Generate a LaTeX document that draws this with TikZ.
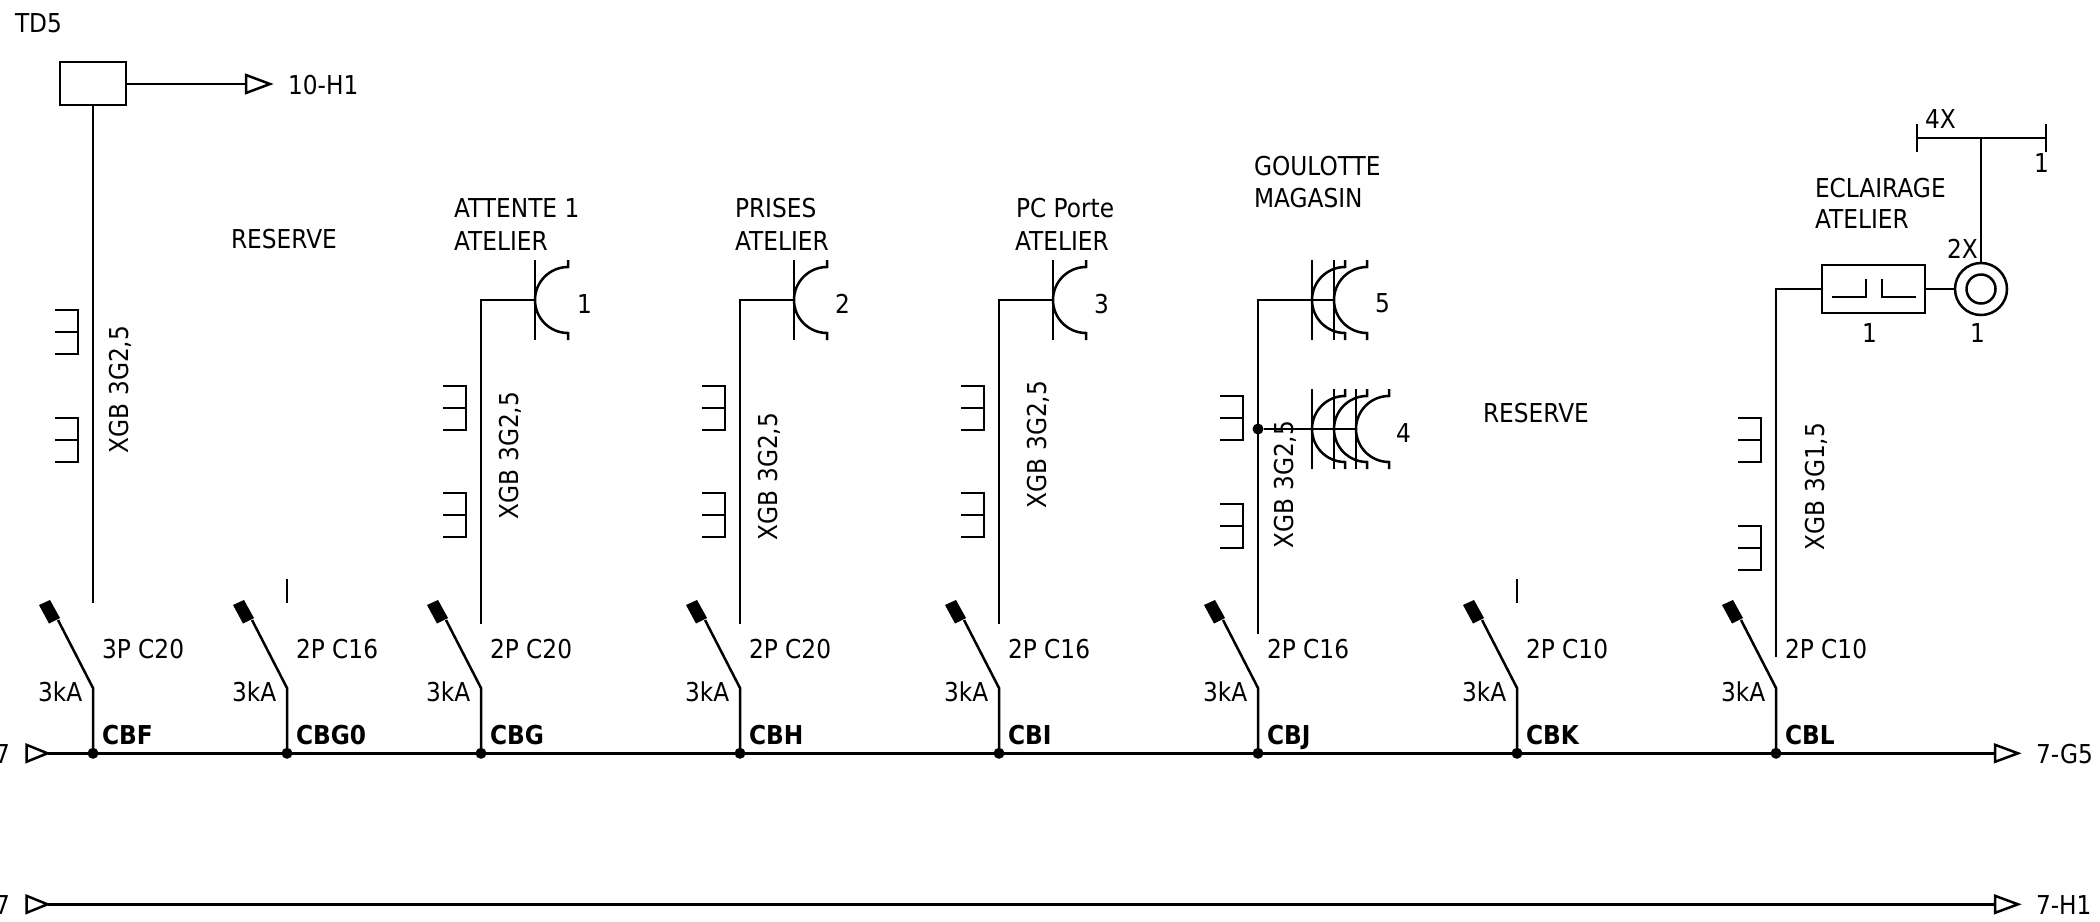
\documentclass[tikz,border=0pt]{standalone}
\usepackage{fontspec}
\setmainfont[FakeStretch=0.895]{DejaVu Sans}
\usetikzlibrary{calc}
\tikzset{
  wire/.style={line width=2.6pt,black,line cap=butt},
  heavy/.style={line width=3pt,black},
  symb/.style={line width=2.5pt,black},
  lab/.style={anchor=base west,inner sep=0pt,outer sep=0pt,font=\fontsize{26}{30}\selectfont,text=black},
  bold/.style={lab,font=\fontsize{26}{30}\selectfont\bfseries,text=black},
  vlab/.style={lab,rotate=90},
  joint/.style={circle,fill=black,inner sep=0pt,minimum size=11pt},
  tri/.style={symb,fill=white,line join=miter},
}
% breaker: #1 x, #2 id, #3 rating, #4 bold name
\newcommand\brk[4]{%
  \coordinate (bus#2) at (#1,753.3);
  \coordinate (piv#2) at (#1,688);
  \coordinate (lev#2) at ($(piv#2)+(-35,-68)$);
  \draw[symb] (bus#2) -- (piv#2) -- (lev#2);
  \fill[black] ($(piv#2)+(-54,-83)$) -- ($(piv#2)+(-43,-88)$) -- ($(piv#2)+(-33,-70)$) -- ($(piv#2)+(-44,-64.5)$) -- cycle;
  \node[joint] (dot#2) at (bus#2) {};
  \node[lab] (rate#2) at (#1+9,658) {#3};
  \node[lab] (ka#2) at (#1-55,701) {3kA};
  \node[bold] (name#2) at (#1+9,744) {#4};
}
% cable tick pair at x #1, y #2 top
\newcommand\tick[2]{%
  \draw[symb] (#1-38,#2) -- (#1-15,#2) -- (#1-15,#2+44) -- (#1-38,#2+44);
  \draw[symb] (#1-38,#2+22) -- (#1-15,#2+22);
}
% socket: bar x #1, centre y #2
\newcommand\sock[2]{%
  \draw[symb] (#1,#2-40) -- (#1,#2+40);
  \draw[symb] (#1+33,#2-40) -- (#1+33,#2-33)
    .. controls (#1+14.8,#2-33) and (#1,#2-18.2) .. (#1,#2)
    .. controls (#1,#2+18.2) and (#1+14.8,#2+33) .. (#1+33,#2+33)
    -- (#1+33,#2+40);
}
\begin{document}
\begin{tikzpicture}[x=1pt,y=-1pt]
\useasboundingbox (0,0) rectangle (2100,921);
\fill[white] (0,0) rectangle (2100,921);

% bus bars
\coordinate (busL) at (47.5,753.3);
\coordinate (busR) at (1995,753.3);
\coordinate (bus2L) at (47.5,904.3);
\coordinate (bus2R) at (1995,904.3);
\draw[heavy] (busL) -- (busR);
\draw[heavy] (bus2L) -- (bus2R);
\foreach \y in {753.3,904.3}{
  \draw[tri] (26.5,\y-8.5) -- (47.5,\y) -- (26.5,\y+8.5) -- cycle;
  \draw[tri] (1995,\y-8.5) -- (2018,\y) -- (1995,\y+8.5) -- cycle;
}
\node[lab] (l7a) at (-5,763) {7};
\node[lab] (l7b) at (-5,914) {7};
\node[lab] (g5) at (2036,763) {7-G5};
\node[lab] (h1) at (2036,914) {7-H1};

\brk{93}{F}{3P C20}{CBF}
\brk{287}{Gz}{2P C16}{CBG0}
\brk{481}{G}{2P C20}{CBG}
\brk{740}{H}{2P C20}{CBH}
\brk{999}{I}{2P C16}{CBI}
\brk{1258}{J}{2P C16}{CBJ}
\brk{1517}{K}{2P C10}{CBK}
\brk{1776}{L}{2P C10}{CBL}

% column 1
\node[lab] (td5) at (15,32) {TD5};
\node[draw,symb,minimum width=66pt,minimum height=43pt,inner sep=0pt] (tdbox) at (93,83.5) {};
\coordinate (arrow1) at (246,84);
\draw[symb] (tdbox.east |- arrow1) -- (arrow1);
\draw[tri] (246,75) -- (270,84) -- (246,93) -- cycle;
\node[lab] (h10) at (288,94) {10-H1};
\coordinate (end1) at (93,603);
\draw[wire] (tdbox.south) -- (end1);
\tick{93}{310}\tick{93}{418}
\node[vlab] (c1) at (128,453) {XGB 3G2,5};

% reserve 1
\node[lab] (res1) at (231,248) {RESERVE};
\coordinate (stub2a) at (287,579);
\coordinate (stub2b) at (287,603);
\draw[symb] (stub2a) -- (stub2b);

% column 3
\coordinate (end3) at (481,624);
\coordinate (bend3) at (481,300);
\coordinate (s3) at (535,300);
\draw[wire,line join=miter] (end3) -- (bend3) -- (s3);
\sock{535}{300}
\tick{481}{386}\tick{481}{493}
\node[vlab] (c3) at (518,519) {XGB 3G2,5};
\node[lab] (a3) at (454,217) {ATTENTE 1};
\node[lab] (b3) at (454,250) {ATELIER};
\node[lab] (n3) at (577,313) {1};

% column 4
\coordinate (end4) at (740,624);
\coordinate (bend4) at (740,300);
\coordinate (s4) at (794,300);
\draw[wire,line join=miter] (end4) -- (bend4) -- (s4);
\sock{794}{300}
\tick{740}{386}\tick{740}{493}
\node[vlab] (c4) at (777,540) {XGB 3G2,5};
\node[lab] (a4) at (735,217) {PRISES};
\node[lab] (b4) at (735,250) {ATELIER};
\node[lab] (n4) at (835,313) {2};

% column 5
\coordinate (end5) at (999,624);
\coordinate (bend5) at (999,300);
\coordinate (s5) at (1053,300);
\draw[wire,line join=miter] (end5) -- (bend5) -- (s5);
\sock{1053}{300}
\tick{999}{386}\tick{999}{493}
\node[vlab] (c5) at (1046,508) {XGB 3G2,5};
\node[lab] (a5) at (1016,217) {PC Porte};
\node[lab] (b5) at (1015,250) {ATELIER};
\node[lab] (n5) at (1094,313) {3};

% column 6
\coordinate (end6) at (1258,634);
\coordinate (bend6) at (1258,300);
\coordinate (s6) at (1334,300);
\coordinate (s6b) at (1356,429);
\draw[wire,line join=miter] (end6) -- (bend6) -- (s6);
\node[joint] (dot6) at (1258,429) {};
\draw[wire] (dot6) -- (s6b);
\sock{1312}{300}\sock{1334}{300}
\sock{1312}{429}\sock{1334}{429}\sock{1356}{429}
\tick{1258}{396}\tick{1258}{504}
\node[vlab] (c6) at (1293,548) {XGB 3G2,5};
\node[lab] (a6) at (1254,175) {GOULOTTE};
\node[lab] (b6) at (1254,207) {MAGASIN};
\node[lab] (n6a) at (1375,312) {5};
\node[lab] (n6b) at (1396,442) {4};

% reserve 2
\node[lab] (res2) at (1483,422) {RESERVE};
\coordinate (stub7a) at (1517,579);
\coordinate (stub7b) at (1517,603);
\draw[symb] (stub7a) -- (stub7b);

% column 8
\coordinate (end8) at (1776,657);
\coordinate (bend8) at (1776,289);
\node[draw,symb,minimum width=103pt,minimum height=48pt,inner sep=0pt] (lum) at (1873.5,289) {};
\draw[wire,line join=miter] (end8) -- (bend8) -- (lum.west);
\draw[symb] (1832,297) -- (1866,297) -- (1866,279);
\draw[symb] (1882,279) -- (1882,297) -- (1916,297);
\node[circle,draw,symb,minimum size=52pt,inner sep=0pt] (ring) at (1981,289) {};
\node[circle,draw,symb,minimum size=29pt,inner sep=0pt] (ringi) at (1981,289) {};
\draw[symb] (lum.east) -- (ring.west);
\coordinate (tee) at (1981,138);
\coordinate (teeL) at (1917,138);
\coordinate (teeR) at (2046,138);
\draw[symb] (ring.north) -- (tee);
\draw[wire] (teeL) -- (teeR);
\draw[symb] (1917,124) -- (1917,152);
\draw[symb] (2046,124) -- (2046,152);
\tick{1776}{418}\tick{1776}{526}
\node[vlab] (c8) at (1824,550) {XGB 3G1,5};
\node[lab] (a8) at (1815,197) {ECLAIRAGE};
\node[lab] (b8) at (1815,228) {ATELIER};
\node[lab] (x4) at (1925,128) {4X};
\node[lab] (x1) at (2034,172) {1};
\node[lab] (x2) at (1947,258) {2X};
\node[lab] (u1) at (1862,342) {1};
\node[lab] (u2) at (1970,342) {1};
\end{tikzpicture}
\end{document}
